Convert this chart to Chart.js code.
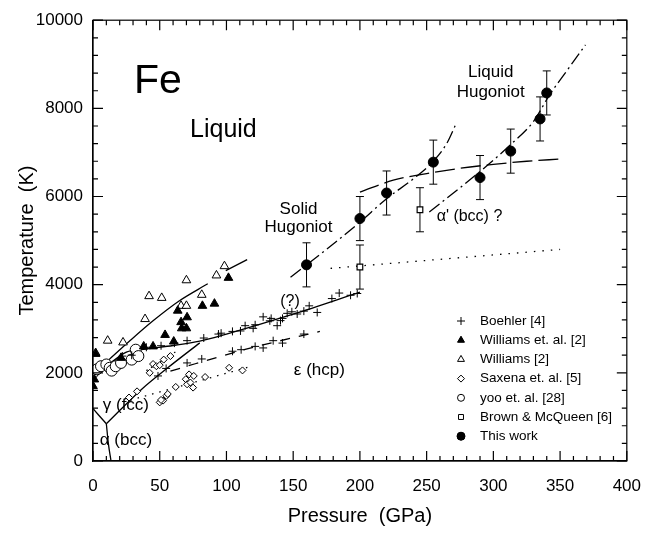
<!DOCTYPE html>
<html>
<head>
<meta charset="utf-8">
<script src="https://cdn.jsdelivr.net/npm/chart.js@4.4.0/dist/chart.umd.min.js"></script>
<style>
  html, body { margin: 0; padding: 0; background: #fff; overflow: hidden; }
  #wrap { width: 656px; height: 533px; position: relative; }
  canvas { display: block; }
</style>
</head>
<body>
<div id="wrap"><canvas id="c"></canvas></div>
<script>
// ---- measured points ----
const boehlerP = [22, 29, 40, 51, 61, 70.5, 83, 94, 96, 104.5, 110.5, 114, 120, 121.5, 127.5, 132.5, 133.5, 138, 140.5, 142, 145.5, 149, 153, 158, 162, 168, 179, 184.5, 193, 198,
                  48.7, 54.8, 70.5, 81.5, 104.5, 111, 121.5, 127.5, 135, 142, 158];
const boehlerT = [2380, 2400, 2580, 2615, 2675, 2730, 2790, 2880, 2900, 2940, 2950, 3070, 3010, 3090, 3270, 3180, 3235, 3070, 3185, 3235, 3350, 3385, 3335, 3400, 3520, 3370, 3685, 3810, 3760, 3800,
                  1930, 2100, 2225, 2315, 2490, 2525, 2600, 2565, 2730, 2675, 2880];

const willEtAlP = [0, 1, 2, 21, 38, 45, 54, 60.5, 63.5, 66, 66.5, 70, 70.5, 82, 91, 101.5];
const willEtAlT = [1700, 1850, 2430, 2340, 2600, 2600, 2860, 2710, 3410, 3150, 3010, 3010, 3260, 3520, 3570, 4155];

const willP = [2, 11, 22.5, 39, 42, 51.5, 66, 70, 70, 81.5, 92.5, 98.5];
const willT = [2450, 2730, 2690, 3220, 3740, 3700, 3520, 3520, 4100, 3770, 4210, 4420];

const saxenaP = [27, 33, 42.5, 45, 47.5, 50, 53, 58, 50, 52.5, 51, 55, 56, 62, 69.5, 70.5, 73, 72, 75, 75.5, 84, 102, 112];
const saxenaT = [1440, 1580, 2000, 2200, 2150, 2175, 2300, 2380, 1330, 1370, 1385, 1480, 1520, 1680, 1855, 1740, 1780, 1965, 1665, 1930, 1905, 2115, 2055];

const yooP = [0, 3, 6, 10, 12.5, 14, 17, 21, 29, 32, 34];
const yooT = [2000, 2080, 2150, 2190, 2115, 2050, 2150, 2225, 2300, 2525, 2380];

const brownP = [200, 245];
const brownT = [4400, 5700];
const brownErr = [500, 500];

const thisP = [160, 200, 220, 255, 290, 313, 335, 340];
const thisT = [4450, 5500, 6080, 6780, 6430, 7030, 7760, 8350];
const thisErr = [500, 500, 500, 500, 500, 500, 500, 500];

// ---- curves ----
const solidHugP = [148, 175, 200, 220, 240, 255, 265, 272];
const solidHugT = [4170, 4800, 5420, 5950, 6400, 6800, 7200, 7650];

const liqHugP = [252, 275, 296, 313, 330, 342, 355, 369];
const liqHugT = [5650, 6200, 6720, 7180, 7700, 8300, 8850, 9440];

const meltHighP = [200, 225, 250, 275, 300, 325, 350];
const meltHighT = [6100, 6370, 6520, 6640, 6730, 6800, 6850];

const dotHighP = [178, 350];
const dotHighT = [4370, 4800];

const boehlerMeltP = [10, 25, 40, 60, 80, 100, 150, 200];
const boehlerMeltT = [2150, 2470, 2540, 2620, 2720, 2880, 3330, 3830];

const willMeltP = [12, 27, 45, 64.5, 86];
const willMeltT = [2300, 2710, 3180, 3630, 4020];
const willMelt2P = [99.5, 115.5];
const willMelt2T = [4320, 4570];

const gammaEpsP = [10, 36.5, 56, 80];
const gammaEpsT = [845, 1630, 2115, 2680];

const alphaGammaP = [0, 4, 10];
const alphaGammaT = [1190, 1050, 845];

const alphaEpsP = [10, 11.5, 13.5];
const alphaEpsT = [845, 400, 0];

const dotLowP = [28, 120];
const dotLowT = [1380, 2160];

const dotSteepP = [40, 62];
const dotSteepT = [2050, 2480];

const boehlerDashP = [58, 114, 170];
const boehlerDashT = [2040, 2530, 2940];

const legendNames = ["Boehler [4]", "Williams et. al. [2]", "Williams [2]", "Saxena et. al. [5]", "yoo et. al. [28]", "Brown & McQueen [6]", "This work"];

const FONT = "'Liberation Sans', Arial, Helvetica, sans-serif";

function pts(xs, ys) { return xs.map((v, i) => ({ x: v, y: ys[i] })); }

function markers(label, xs, ys, style, radius, filled, bw) {
  return {
    label, data: pts(xs, ys), showLine: false,
    pointStyle: style, pointRadius: radius,
    pointBackgroundColor: filled ? '#000' : '#fff',
    pointBorderColor: '#000', pointBorderWidth: bw || 1,
    order: 1
  };
}

function curve(xs, ys, dash, width) {
  return {
    label: '', data: pts(xs, ys), showLine: true,
    borderColor: '#000', borderWidth: width || 1.3,
    borderDash: dash || [], pointRadius: 0,
    cubicInterpolationMode: 'monotone', fill: false,
    order: 2
  };
}

const DASHDOT = [13, 4, 2, 4];

const datasets = [
  curve(solidHugP, solidHugT, DASHDOT),
  curve(liqHugP, liqHugT, DASHDOT),
  curve(meltHighP, meltHighT, [20, 6]),
  curve(dotHighP, dotHighT, [1.5, 7]),
  curve(boehlerMeltP, boehlerMeltT, []),
  curve(willMeltP, willMeltT, []),
  curve(willMelt2P, willMelt2T, []),
  curve(gammaEpsP, gammaEpsT, []),
  curve(alphaGammaP, alphaGammaT, []),
  curve(alphaEpsP, alphaEpsT, []),
  curve(dotLowP, dotLowT, [1.5, 6]),
  curve(dotSteepP, dotSteepT, [1.5, 4]),
  curve(boehlerDashP, boehlerDashT, [10, 9]),
  markers(legendNames[0], boehlerP, boehlerT, 'cross', 4, false, 1),
  markers(legendNames[1], willEtAlP, willEtAlT, 'triangle', 5, true, 1),
  markers(legendNames[2], willP, willT, 'triangle', 5, false, 1),
  markers(legendNames[3], saxenaP, saxenaT, 'rectRot', 3.5, false, 1),
  markers(legendNames[4], yooP, yooT, 'circle', 5.5, false, 1),
  markers(legendNames[5], brownP, brownT, 'rect', 4, false, 1.2),
  markers(legendNames[6], thisP, thisT, 'circle', 5, true, 1)
];

const legendStyles = [
  ['cross', 4, false], ['triangle', 4, true], ['triangle', 4, false],
  ['rectRot', 3.5, false], ['circle', 3.5, false], ['rect', 3.5, false], ['circle', 4, true]
];

// annotations placed in data coordinates
const notes = [
  { t: 'Fe', x: 48.7, y: 8340, size: 41, align: 'center', base: 'alphabetic' },
  { t: 'Liquid', x: 72.7, y: 7350, size: 25, align: 'left', base: 'alphabetic' },
  { t: 'Solid', x: 154, y: 5600, size: 17, align: 'center', base: 'alphabetic' },
  { t: 'Hugoniot', x: 154, y: 5200, size: 17, align: 'center', base: 'alphabetic' },
  { t: 'Liquid', x: 298, y: 8720, size: 17, align: 'center', base: 'alphabetic' },
  { t: 'Hugoniot', x: 298, y: 8250, size: 17, align: 'center', base: 'alphabetic' },
  { t: "\u03b1' (bcc) ?", x: 257.5, y: 5540, size: 16, align: 'left', base: 'middle' },
  { t: '(?)', x: 147.6, y: 3610, size: 16, align: 'center', base: 'middle' },
  { t: '\u03b5 (hcp)', x: 150.5, y: 2060, size: 17, align: 'left', base: 'middle' },
  { t: '\u03b3 (fcc)', x: 7.3, y: 1256, size: 17, align: 'left', base: 'middle' },
  { t: '\u03b1 (bcc)', x: 5.1, y: 470, size: 17, align: 'left', base: 'middle' }
];

const frameTicks = {
  id: 'frameTicks',
  afterDatasetsDraw(chart) {
    const { ctx, chartArea: a, scales: { x, y } } = chart;
    ctx.save();
    ctx.strokeStyle = '#000';
    ctx.lineWidth = 1.2;
    ctx.strokeRect(a.left, a.top, a.right - a.left, a.bottom - a.top);
    ctx.beginPath();
    for (let v = 0; v <= 400; v += 10) {
      const px = x.getPixelForValue(v);
      const len = v % 50 === 0 ? 10 : 5;
      ctx.moveTo(px, a.bottom); ctx.lineTo(px, a.bottom - len);
      ctx.moveTo(px, a.top); ctx.lineTo(px, a.top + len);
    }
    for (let v = 0; v <= 10000; v += 400) {
      const py = y.getPixelForValue(v);
      const len = v % 2000 === 0 ? 10 : 5;
      ctx.moveTo(a.left, py); ctx.lineTo(a.left + len, py);
      ctx.moveTo(a.right, py); ctx.lineTo(a.right - len, py);
    }
    ctx.stroke();
    ctx.restore();
  }
};

const errorBars = {
  id: 'errorBars',
  beforeDatasetsDraw(chart) {
    const { ctx, scales: { x, y } } = chart;
    ctx.save();
    ctx.strokeStyle = '#000';
    ctx.lineWidth = 1;
    ctx.beginPath();
    const draw = (xs, ys, es) => {
      xs.forEach((v, i) => {
        const px = x.getPixelForValue(v);
        const top = y.getPixelForValue(ys[i] + es[i]);
        const bot = y.getPixelForValue(ys[i] - es[i]);
        ctx.moveTo(px, top); ctx.lineTo(px, bot);
        ctx.moveTo(px - 4, top); ctx.lineTo(px + 4, top);
        ctx.moveTo(px - 4, bot); ctx.lineTo(px + 4, bot);
      });
    };
    draw(thisP, thisT, thisErr);
    draw(brownP, brownT, brownErr);
    ctx.stroke();
    ctx.restore();
  }
};

const notesAndLegend = {
  id: 'notesAndLegend',
  afterDraw(chart) {
    const { ctx, scales: { x, y } } = chart;
    ctx.save();
    ctx.fillStyle = '#000';
    notes.forEach(n => {
      ctx.font = n.size + 'px ' + FONT;
      ctx.textAlign = n.align;
      ctx.textBaseline = n.base;
      ctx.fillText(n.t, x.getPixelForValue(n.x), y.getPixelForValue(n.y));
    });
    // legend inside the plot, lower right
    const lx = 461, tx = 480, y0 = 321, dy = 19.2;
    ctx.font = '13.5px ' + FONT;
    ctx.textAlign = 'left';
    ctx.textBaseline = 'middle';
    legendNames.forEach((name, i) => {
      const yy = y0 + i * dy;
      const [style, r, filled] = legendStyles[i];
      ctx.fillStyle = filled ? '#000' : '#fff';
      ctx.strokeStyle = '#000';
      Chart.helpers.drawPoint(ctx, { pointStyle: style, radius: r, rotation: 0, borderWidth: 1.6 }, lx, yy);
      if (filled) ctx.fill();
      ctx.fillStyle = '#000';
      ctx.fillText(name, tx, yy);
    });
    ctx.restore();
  }
};

new Chart(document.getElementById('c'), {
  type: 'scatter',
  data: { datasets },
  options: {
    responsive: true,
    maintainAspectRatio: false,
    animation: false,
    layout: { padding: { top: 15, right: 0, left: 0, bottom: 0 } },
    plugins: { legend: { display: false }, tooltip: { enabled: false } },
    scales: {
      x: {
        type: 'linear', min: 0, max: 400,
        afterFit(s) { s.height = 72; },
        grid: { display: false, drawTicks: false },
        border: { display: true, color: '#000', width: 1.2 },
        ticks: { stepSize: 50, color: '#000', padding: 15, font: { family: FONT, size: 17 }, callback: v => String(v) },
        title: { display: true, text: 'Pressure  (GPa)', color: '#000', font: { family: FONT, size: 20 }, padding: { top: 0, bottom: 5 } }
      },
      y: {
        type: 'linear', min: 0, max: 10000,
        afterFit(s) { s.width = 93; },
        grid: { display: false, drawTicks: false },
        border: { display: true, color: '#000', width: 1.2 },
        ticks: { stepSize: 2000, color: '#000', padding: 10, font: { family: FONT, size: 17 }, callback: v => String(v) },
        title: { display: true, text: 'Temperature  (K)', color: '#000', font: { family: FONT, size: 20 }, padding: { top: 15, bottom: 0 } }
      }
    }
  },
  plugins: [frameTicks, errorBars, notesAndLegend]
});
</script>
</body>
</html>
